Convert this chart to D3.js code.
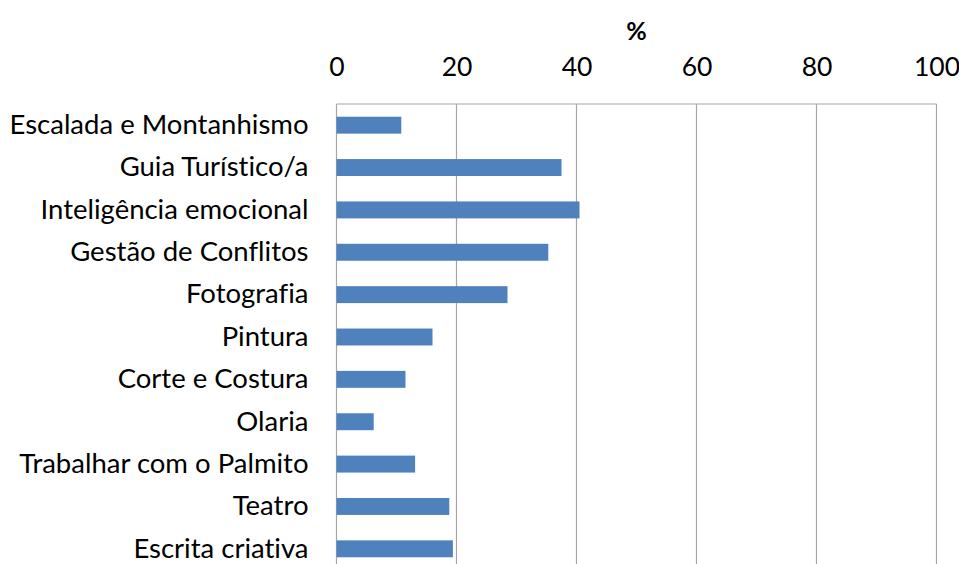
<!DOCTYPE html>
<html>
<head>
<meta charset="utf-8">
<script src="https://cdn.jsdelivr.net/npm/d3@7"></script>
<style>
  body { margin: 0; background: #fff; }
  svg { display: block; font-family: Lato, sans-serif; font-variant-ligatures: none; }
</style>
</head>
<body>
<div id="vis"></div>
<script>
const categories = ["Escalada e Montanhismo", "Guia Turístico/a", "Inteligência emocional",
  "Gestão de Conflitos", "Fotografia", "Pintura", "Corte e Costura", "Olaria",
  "Trabalhar com o Palmito", "Teatro", "Escrita criativa"];
const values = [10.8, 37.5, 40.5, 35.3, 28.5, 16.0, 11.5, 6.2, 13.1, 18.8, 19.4];
const ticks = [0, 20, 40, 60, 80, 100];
const axisTitle = "%";

const width = 959, height = 564;
const margin = { top: 104, left: 336.5, right: 22.5 };
const plotBottom = 570;

const svg = d3.select("#vis").append("svg")
  .attr("width", width)
  .attr("height", height);

const x = d3.scaleLinear([0, 100], [margin.left, width - margin.right]);
const y = d3.scaleBand()
  .domain(categories)
  .range([margin.top, plotBottom])
  .paddingInner(0.6)
  .paddingOuter(0.3);

// gridlines + frame
svg.append("g")
  .selectAll("line")
  .data(ticks)
  .join("line")
  .attr("x1", d => x(d)).attr("x2", d => x(d))
  .attr("y1", margin.top).attr("y2", plotBottom)
  .attr("stroke", "#a6a6a6")
  .attr("stroke-width", 1.2);

svg.append("line")
  .attr("x1", x(0)).attr("x2", x(100))
  .attr("y1", margin.top).attr("y2", margin.top)
  .attr("stroke", "#a6a6a6")
  .attr("stroke-width", 1.2);

// bars
svg.append("g")
  .attr("fill", "#4f81bd")
  .selectAll("rect")
  .data(values)
  .join("rect")
  .attr("x", x(0))
  .attr("y", (d, i) => y(categories[i]))
  .attr("height", y.bandwidth())
  .attr("width", d => x(d) - x(0));

// top axis labels
const axis = d3.axisTop(x).tickValues(ticks).tickSize(0).tickPadding(0);
svg.append("g")
  .attr("transform", "translate(0,76)")
  .call(axis)
  .call(g => g.select(".domain").remove())
  .call(g => g.selectAll("text")
    .attr("font-family", "Lato, sans-serif")
    .attr("font-size", 26.5)
    .attr("fill", "#000")
    .attr("dy", 0));

svg.append("text")
  .attr("x", (x(0) + x(100)) / 2)
  .attr("y", 40)
  .attr("text-anchor", "middle")
  .attr("font-size", 25)
  .attr("font-weight", "bold")
  .text(axisTitle);

// category labels
const yAxis = d3.axisLeft(y).tickSize(0).tickPadding(28);
svg.append("g")
  .attr("transform", `translate(${x(0)},0)`)
  .call(yAxis)
  .call(g => g.select(".domain").remove())
  .call(g => g.selectAll("text")
    .attr("font-family", "Lato, sans-serif")
    .attr("font-size", 27.5)
    .attr("fill", "#000"));
</script>
</body>
</html>
